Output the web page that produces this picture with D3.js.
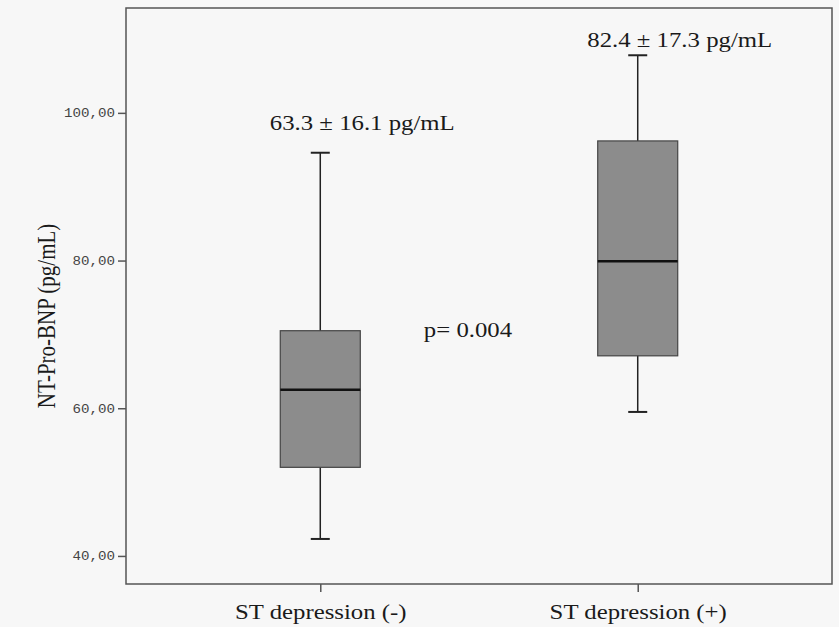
<!DOCTYPE html>
<html lang="en">
<head>
<meta charset="utf-8">
<title>NT-Pro-BNP boxplot</title>
<script src="https://d3js.org/d3.v7.min.js"></script>
<style>
body { margin: 0; background: #f7f7f7; }
.axis text { font-family: "Liberation Mono", "DejaVu Sans Mono", monospace; font-size: 12px; fill: #444; }
.serif { font-family: "Liberation Serif", "Times New Roman", serif; fill: #1a1a1a; }
</style>
</head>
<body>
<script>
// data
var groups = ["ST depression (-)", "ST depression (+)"];
var whiskerLow = [42.3, 59.5];
var q1 = [52.0, 67.1];
var median = [62.5, 79.9];
var q3 = [70.5, 96.2];
var whiskerHigh = [94.6, 107.8];
var statLabels = ["63.3 \u00b1 16.1 pg/mL", "82.4 \u00b1 17.3 pg/mL"];
var pText = "p= 0.004";
var yTicks = [40, 60, 80, 100];

var w = 839, h = 627;
// frame edges (note: "top" is reserved by window, so use other names)
var fLeft = 126, fRight = 832, fTop = 8, fBottom = 584;
var stretch = 1.18;  // the source picture is a bit wider than tall

var svg = d3.select("body").append("svg")
  .attr("width", w)
  .attr("height", h);

svg.append("rect")
  .attr("width", w).attr("height", h)
  .attr("fill", "#f7f7f7");

var yScale = d3.scaleLinear()
  .domain([36.2, 114.2])
  .range([fBottom, fTop]);

var xScale = d3.scalePoint()
  .domain(groups)
  .range([fLeft, fRight])
  .padding(0.612);

var boxW = 80, capW = 19;

var rows = groups.map(function(g, i) {
  return {g: g, lo: whiskerLow[i], q1: q1[i], med: median[i], q3: q3[i], hi: whiskerHigh[i], label: statLabels[i]};
});

// frame
svg.append("rect")
  .attr("x", fLeft).attr("y", fTop)
  .attr("width", fRight - fLeft).attr("height", fBottom - fTop)
  .attr("fill", "none")
  .attr("stroke", "#555")
  .attr("stroke-width", 1.5);

// y axis
var yAxis = d3.axisLeft(yScale)
  .tickValues(yTicks)
  .tickSize(8)
  .tickPadding(3)
  .tickFormat(function(d) { return d.toFixed(2).replace(".", ","); });

var gy = svg.append("g")
  .attr("class", "axis")
  .attr("transform", "translate(" + fLeft + ",0)")
  .call(yAxis);
gy.select(".domain").remove();
gy.selectAll(".tick line").attr("stroke", "#555").attr("stroke-width", 1.5);
gy.selectAll(".tick text")
  .attr("transform", function() { var x = +d3.select(this).attr("x"); return "translate(" + x + ",0) scale(" + stretch + ",1) translate(" + (-x) + ",0)"; });

// x axis
var xAxis = d3.axisBottom(xScale).tickSize(8).tickPadding(6);
var gx = svg.append("g")
  .attr("transform", "translate(0," + fBottom + ")")
  .call(xAxis);
gx.select(".domain").remove();
gx.selectAll(".tick line").attr("stroke", "#555").attr("stroke-width", 1.5);
gx.selectAll(".tick text")
  .attr("class", "serif")
  .attr("font-size", 21)
  .attr("dy", "1em")
  .attr("transform", "scale(" + stretch + ",1)");

// whiskers
var box = svg.selectAll("g.box")
  .data(rows)
  .enter()
  .append("g")
  .attr("class", "box");

box.append("line")
  .attr("x1", function(d) { return xScale(d.g); })
  .attr("x2", function(d) { return xScale(d.g); })
  .attr("y1", function(d) { return yScale(d.hi); })
  .attr("y2", function(d) { return yScale(d.lo); })
  .attr("stroke", "#222")
  .attr("stroke-width", 1.5);

box.selectAll("line.cap")
  .data(function(d) { return [d.lo, d.hi].map(function(v) { return {g: d.g, v: v}; }); })
  .enter()
  .append("line")
  .attr("class", "cap")
  .attr("x1", function(d) { return xScale(d.g) - capW / 2; })
  .attr("x2", function(d) { return xScale(d.g) + capW / 2; })
  .attr("y1", function(d) { return yScale(d.v); })
  .attr("y2", function(d) { return yScale(d.v); })
  .attr("stroke", "#222")
  .attr("stroke-width", 2);

box.append("rect")
  .attr("x", function(d) { return xScale(d.g) - boxW / 2; })
  .attr("y", function(d) { return yScale(d.q3); })
  .attr("width", boxW)
  .attr("height", function(d) { return yScale(d.q1) - yScale(d.q3); })
  .attr("fill", "#8c8c8c")
  .attr("stroke", "#444")
  .attr("stroke-width", 1.2);

box.append("line")
  .attr("x1", function(d) { return xScale(d.g) - boxW / 2; })
  .attr("x2", function(d) { return xScale(d.g) + boxW / 2; })
  .attr("y1", function(d) { return yScale(d.med); })
  .attr("y2", function(d) { return yScale(d.med); })
  .attr("stroke", "#111")
  .attr("stroke-width", 2.5);

// mean +- sd labels above the whiskers
var labelGap = [23, 8];
box.append("text")
  .attr("class", "serif")
  .attr("font-size", 21)
  .attr("text-anchor", "middle")
  .attr("transform", function(d, i) {
    return "translate(" + (xScale(d.g) + 42) + "," + (yScale(d.hi) - labelGap[i]) + ") scale(" + stretch + ",1)";
  })
  .text(function(d) { return d.label; });

// p value
var mid = (xScale(groups[0]) + xScale(groups[1])) / 2;
svg.append("text")
  .attr("class", "serif")
  .attr("font-size", 21)
  .attr("text-anchor", "middle")
  .attr("transform", "translate(" + (mid - 11) + "," + yScale(69.7) + ") scale(" + stretch + ",1)")
  .text(pText);

// y title
svg.append("text")
  .attr("class", "serif")
  .attr("font-size", 21)
  .attr("text-anchor", "middle")
  .attr("transform", "translate(55," + yScale(72.5) + ") rotate(-90) scale(1," + stretch + ")")
  .text("NT-Pro-BNP (pg/mL)");
</script>
</body>
</html>
